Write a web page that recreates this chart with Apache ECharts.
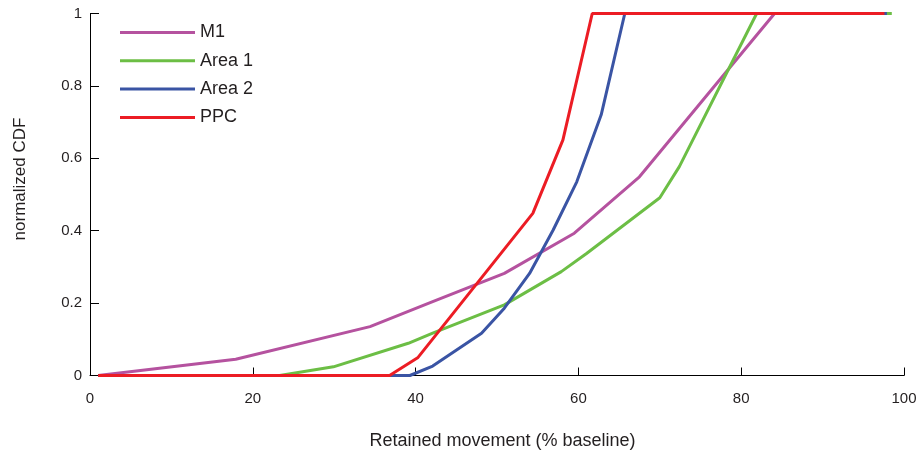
<!DOCTYPE html>
<html>
<head>
<meta charset="utf-8">
<script src="https://cdn.jsdelivr.net/npm/echarts@6/dist/echarts.min.js"></script>
<style>
  html, body { margin: 0; padding: 0; background: #fff; }
  #chart { width: 917px; height: 453px; }
</style>
</head>
<body>
<div id="chart"></div>
<script>
// retained movement (% baseline) vs normalized CDF
const m1X = [1, 17.9, 34.4, 42.1, 50.9, 59.5, 67.5, 84.1, 98];
const m1Y = [0, 0.045, 0.135, 0.204, 0.282, 0.393, 0.549, 1, 1];
const area1X = [1, 23.3, 29.9, 39.1, 42.1, 50.9, 57.9, 61, 70, 72.4, 81.9, 98.5];
const area1Y = [0, 0, 0.024, 0.089, 0.117, 0.195, 0.287, 0.337, 0.491, 0.577, 1, 1];
const area2X = [1, 39.3, 42.1, 48.1, 50.9, 54, 56.9, 59.8, 62.8, 65.7, 97.9];
const area2Y = [0, 0, 0.026, 0.117, 0.186, 0.282, 0.402, 0.535, 0.72, 1, 1];
const ppcX = [1, 36.8, 40.3, 54.4, 58.1, 61.7, 97.6];
const ppcY = [0, 0, 0.05, 0.448, 0.651, 1, 1];

const seriesNames = ['M1', 'Area 1', 'Area 2', 'PPC'];
const colors = ['#b5529f', '#6cbe45', '#3a54a4', '#ec1c24'];

const font = 'Liberation Sans, Arial, sans-serif';
const ink = '#231f20';

function pairs(xs, ys) {
  return xs.map((x, i) => [x, ys[i]]);
}

const seriesData = [pairs(m1X, m1Y), pairs(area1X, area1Y), pairs(area2X, area2Y), pairs(ppcX, ppcY)];

const chart = echarts.init(document.getElementById('chart'), null, { renderer: 'canvas' });

const options = {
  animation: false,
  textStyle: { fontFamily: font, color: ink },
  grid: { left: 90, right: 13, top: 13.5, bottom: 77.5, outerBoundsMode: 'none', containLabel: false },
  legend: {
    orient: 'vertical',
    left: 115,
    top: 17.5,
    icon: 'rect',
    itemWidth: 75,
    itemHeight: 3,
    itemGap: 8.3,
    data: seriesNames,
    textStyle: { fontFamily: font, fontSize: 18, color: ink, lineHeight: 20 },
  },
  xAxis: {
    type: 'value',
    min: 0,
    max: 100,
    interval: 20,
    name: 'Retained movement (% baseline)',
    nameLocation: 'middle',
    nameGap: 57,
    nameTextStyle: { fontFamily: font, fontSize: 18, color: ink, padding: [0, 0, 0, 11] },
    axisLine: { lineStyle: { color: '#000', width: 1 } },
    axisTick: { inside: true, length: 8, lineStyle: { color: '#000' } },
    axisLabel: { fontFamily: font, fontSize: 15, color: ink, margin: 16 },
    splitLine: { show: false },
  },
  yAxis: {
    type: 'value',
    min: 0,
    max: 1,
    interval: 0.2,
    name: 'normalized CDF',
    nameLocation: 'middle',
    nameGap: 61,
    nameTextStyle: { fontFamily: font, fontSize: 17, color: ink, padding: [0, 0, 0, 31] },
    axisLine: { show: true, lineStyle: { color: '#000', width: 1 } },
    axisTick: { show: true, inside: true, length: 9, lineStyle: { color: '#000' } },
    axisLabel: { fontFamily: font, fontSize: 15, color: ink, margin: 8 },
    splitLine: { show: false },
  },
  series: seriesNames.map((name, i) => ({
    name: name,
    type: 'line',
    data: seriesData[i],
    showSymbol: false,
    symbol: 'none',
    color: colors[i],
    lineStyle: { width: 3, color: colors[i] },
    z: 2 + i,
  })),
};

chart.setOption(options);
</script>
</body>
</html>
